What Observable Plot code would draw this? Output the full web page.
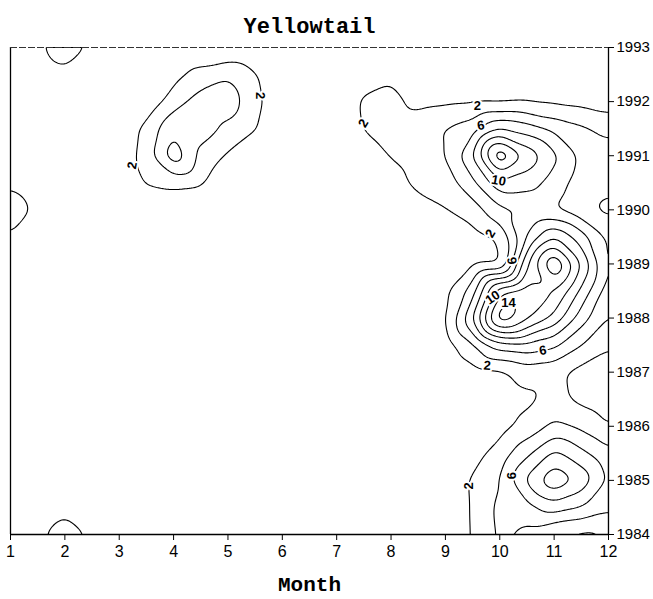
<!DOCTYPE html>
<html><head><meta charset="utf-8">
<script src="https://cdn.jsdelivr.net/npm/d3@7"></script>
<script src="https://cdn.jsdelivr.net/npm/@observablehq/plot@0.6"></script>
<style>body{margin:0;background:#fff}</style>
</head><body><div id="chart"></div>
<script>
// Grid columns (month) and rows (year, top to bottom)
const months = [1,1.5,2,2.5,3,3.5,4,4.5,5,5.5,6,6.5,7,7.5,8,8.5,9,9.5,10,10.5,11,11.5,12];
const years = [1993,1992.5,1992,1991.5,1991,1990.5,1990,1989.5,1989,1988.5,1988,1987.5,1987,1986.5,1986,1985.5,1985,1984.5,1984];
// Yellowtail abundance (one row per year)
const abundance = [
 [0.5,1.6,3.2,1.6,0.3,0,0,0,0,0,0,0,0,0,0,0,0,0,0,0,0,0,0],
 [0.3,0.8,1.5,0.8,0.2,0.5,1.3,2.8,3.8,2.2,0.3,0,0.2,1.0,1.7,1.0,0.8,0.8,0.9,0.9,0.8,0.6,0.5],
 [0.2,0.3,0.3,0.2,0,0.5,3.0,4.9,5.2,2.6,0.5,0.2,0.5,2.3,2.6,1.4,1.6,1.7,1.6,1.8,1.6,1.4,1.0],
 [0,0,0,0,0.5,2.6,5.8,5.0,3.6,2.1,0.3,0,0.6,2.1,3.0,3.2,4.1,5.0,8.0,7.0,5.5,4.4,3.4],
 [0,0,0,0,0.4,3.0,7.6,3.4,1.7,0.3,0,0,0.2,1.0,2.1,2.8,4.0,8.0,16.5,11.5,8.5,5.5,5.0],
 [1.6,0.5,0,0,0.3,2.2,2.6,2.3,0.3,0,0,0,0,0.5,1.2,2.5,3.0,5.5,9.5,9.0,7.0,5.0,4.5],
 [3.4,1.5,0,0,0,0.3,0.3,0.2,0,0,0,0,0,0,0.5,1.2,1.9,3.0,5.5,5.8,5.9,4.5,3.5],
 [1.8,0.5,0,0,0,0,0,0,0,0,0,0,0,0,0,0.3,0.6,1.2,2.2,8.0,12.0,9.0,5.5],
 [0,0,0,0,0,0,0,0,0,0,0,0,0,0,0,0.2,0.8,1.5,1.5,12.0,18.6,12.0,5.5],
 [0,0,0,0,0,0,0,0,0,0,0,0,0,0,0,0.3,1.5,5.0,13.5,15.2,14.2,9.5,4.8],
 [0,0,0,0,0,0,0,0,0,0,0,0,0,0,0,0.3,1.7,8.0,17.9,14.5,11.5,7.0,3.8],
 [0,0,0,0,0,0,0,0,0,0,0,0,0,0,0,0.2,1.0,3.5,7.0,7.5,6.5,4.0,2.2],
 [0,0,0,0,0,0,0,0,0,0,0,0,0,0,0,0,0.3,1.2,1.5,2.8,2.5,1.3,1.0],
 [0,0,0,0,0,0,0,0,0,0,0,0,0,0,0,0,0.2,0.5,1.0,1.6,2.6,1.5,0.8],
 [0,0,0,0,0,0,0,0,0,0,0,0,0,0,0,0,0.2,0.6,1.2,2.6,4.5,3.5,2.0],
 [0,0,0,0,0,0,0,0,0,0,0,0,0,0,0,0,0.5,1.3,2.8,5.5,8.5,6.5,4.5],
 [0,0,0,0,0,0,0,0,0,0,0,0,0,0,0,0,0.8,2.2,4.0,8.5,11.8,9.5,5.5],
 [0.2,0.5,1.5,0.5,0,0,0,0,0,0,0,0,0,0,0,0,0.8,2.1,4.6,5.2,7.0,6.0,4.5],
 [0.5,1.6,3.0,1.7,0.2,0,0,0,0,0,0,0,0,0,0,0,0.8,2.05,4.4,3.2,1.7,1.4,1.9]
];
const levels = [2,4,6,8,10,12,14,16];
const monthTicks = [1,2,3,4,5,6,7,8,9,10,11,12];
const yearTicks = [1984,1985,1986,1987,1988,1989,1990,1991,1992,1993];
const labelMonth = [5.6,3.24,7.49,9.59,9.65,9.98,9.83,10.23,9.87,10.16,10.79,9.77,10.23,9.43];
const labelYear  = [1992.11,1990.82,1991.6,1991.93,1991.56,1990.54,1989.56,1989.06,1988.38,1988.29,1987.4,1987.12,1985.09,1984.9];
const labelText  = ["2","2","2","2","6","10","2","6","10","14","6","2","6","2"];
const labelAngle = [90,-80,-60,0,-10,10,-60,-100,-35,0,-10,5,-90,-90];

const contourLabels = labelText.map((t, i) => ({month: labelMonth[i], year: labelYear[i], text: t, angle: labelAngle[i]}));
const samples = [];
years.forEach((yr, r) => months.forEach((m, c) => samples.push({month: m, year: yr, value: abundance[r][c]})));

const mono = "'Liberation Mono', 'Courier New', monospace";
const chart = Plot.plot({
  width: 653, height: 599,
  marginTop: 47, marginBottom: 65, marginLeft: 10, marginRight: 45,
  x: {domain: [1, 12]},
  y: {domain: [1984, 1993]},
  style: {fontFamily: "'Liberation Sans', Arial, sans-serif", color: "black", background: "white"},
  marks: [
    Plot.contour(samples, {
      x: "month", y: "year", value: "value",
      interpolate: "barycentric", pixelSize: 1, blur: 5,
      thresholds: levels,
      stroke: "black", strokeWidth: 1.1, fill: "none", clip: true
    }),
    Plot.text(contourLabels, {x: "month", y: "year", text: "text", rotate: "angle",
      fontSize: 13, fontWeight: "bold", fill: "black", stroke: "white", strokeWidth: 4}),
    Plot.ruleX([1, 12], {stroke: "black", strokeWidth: 1.3}),
    Plot.ruleY([1984], {stroke: "black", strokeWidth: 1.3}),
    Plot.ruleY([1993], {stroke: "#333", strokeWidth: 1, strokeDasharray: "7,2"}),
    Plot.axisX(monthTicks, {anchor: "bottom", tickSize: 6, tickPadding: 5, fontSize: 16, tickFormat: d => String(d), label: null}),
    Plot.axisY(yearTicks, {anchor: "right", tickSize: 5, tickPadding: 3, fontSize: 15, tickFormat: d => String(d), label: null}),
    Plot.text(["Yellowtail"], {frameAnchor: "top", dy: -22, lineAnchor: "middle", fontFamily: mono, fontWeight: "bold", fontSize: 22}),
    Plot.text(["Month"], {frameAnchor: "bottom", dy: 50, lineAnchor: "middle", fontFamily: mono, fontWeight: "bold", fontSize: 21})
  ]
});
document.getElementById("chart").appendChild(chart);
</script>
</body></html>
